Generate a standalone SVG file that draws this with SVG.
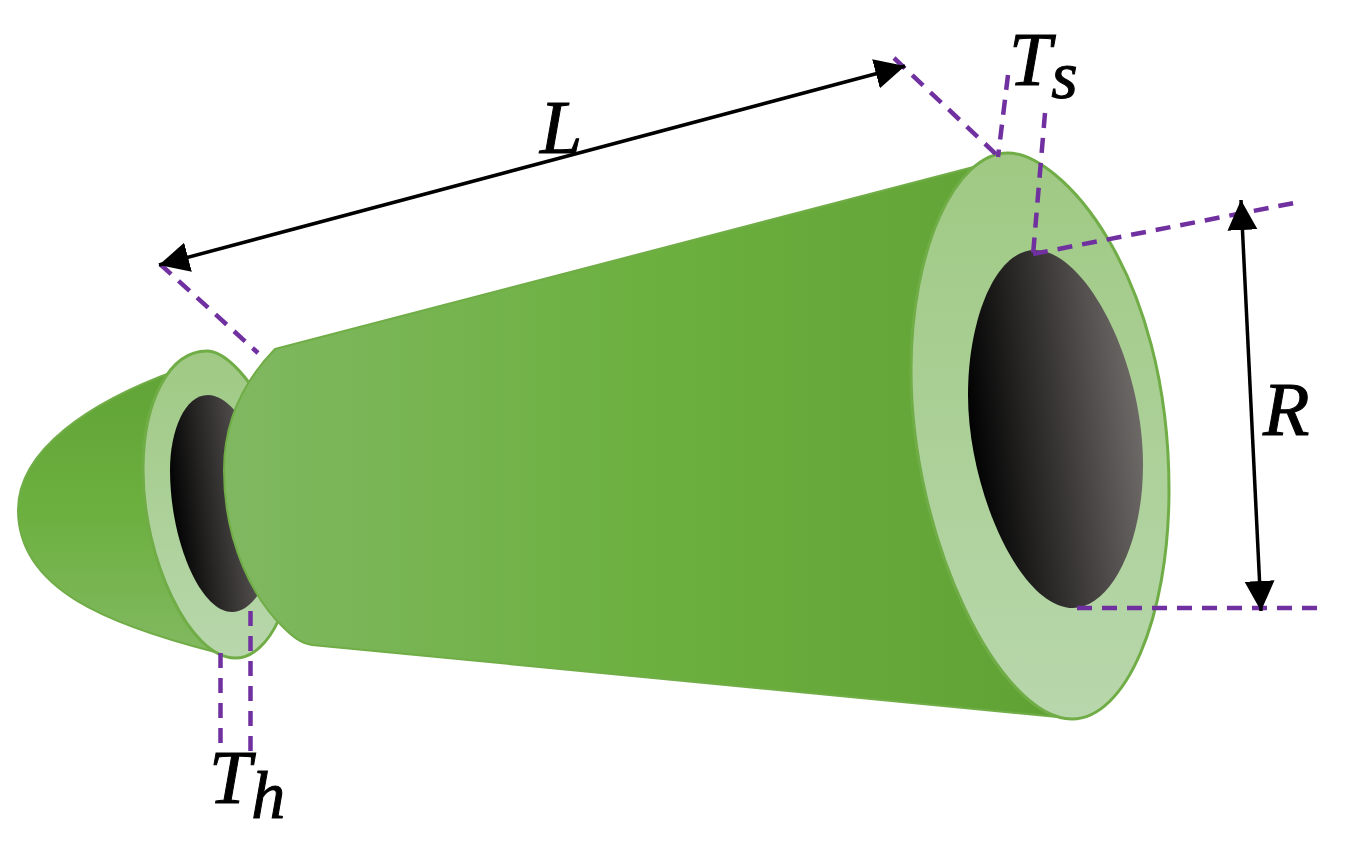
<svg xmlns="http://www.w3.org/2000/svg" width="1359" height="849" viewBox="0 0 1359 849">
  <defs>
    <linearGradient id="bodyV" x1="0" y1="0" x2="0" y2="1">
      <stop offset="0" stop-color="#61a336"/><stop offset="0.5" stop-color="#6cb03f"/><stop offset="1" stop-color="#82b961"/>
    </linearGradient>
    <linearGradient id="bodyH" gradientUnits="userSpaceOnUse" x1="224" y1="440" x2="1070" y2="440">
      <stop offset="0" stop-color="#80b861"/><stop offset="0.5" stop-color="#6cb03f"/><stop offset="1" stop-color="#60a134"/>
    </linearGradient>
    <linearGradient id="ring" x1="0" y1="0" x2="0" y2="1">
      <stop offset="0" stop-color="#9fc983"/><stop offset="1" stop-color="#b8d7ac"/>
    </linearGradient>
    <linearGradient id="holeBig" gradientUnits="userSpaceOnUse" x1="968" y1="440" x2="1143" y2="420">
      <stop offset="0" stop-color="#000"/><stop offset="1" stop-color="#6f6b69"/>
    </linearGradient>
    <linearGradient id="holeSmall" gradientUnits="userSpaceOnUse" x1="170" y1="510" x2="275" y2="498">
      <stop offset="0" stop-color="#000"/><stop offset="1" stop-color="#6f6b69"/>
    </linearGradient>
    <marker id="head" markerUnits="userSpaceOnUse" markerWidth="32" markerHeight="32" refX="30" refY="15" orient="auto-start-reverse" viewBox="0 0 32 32">
      <path d="M0 0L30 15L0 30Z" fill="#000"/>
    </marker>
    <style>
      .edge{stroke:#70ad47;stroke-width:3;stroke-linejoin:round}
      .soft{stroke:#70ad47;stroke-width:2;stroke-linejoin:round}
      .dim{fill:none;stroke:#000;stroke-width:3.500;marker-start:url(#head);marker-end:url(#head)}
      .dash{fill:none;stroke:#7030a0;stroke-width:4.500;stroke-dasharray:15 10}
      .lab{font-family:"Liberation Serif","DejaVu Serif",serif;font-style:italic;fill:#000;stroke:#000;stroke-width:1;font-size:76px}
      .sub{font-size:68px}
    </style>
  </defs>

  <g id="small-end">
    <path class="soft" fill="url(#bodyV)" d="M175 371C90 402 18 450 18 510C18 590 110 625 215 652L240 500Z"/>
    <path class="edge" fill="url(#ring)" d="M207 351C240 351 295 440 297 520C297 600 270 658 235 658C190 658 143 560 143 470C143 400 170 351 207 351Z"/>
    <path fill="url(#holeSmall)" d="M208 395C240 395 275 470 275 530C275 575 255 612 232 612C200 612 170 540 170 470C170 430 185 395 208 395Z"/>
  </g>

  <g id="cone-body">
    <path class="soft" fill="url(#bodyH)" d="M275 349L985 164L1068 718L312 645C300 643 292 636 283 627C255 600 224 545 224 470C224 425 240 385 275 349Z"/>
  </g>

  <g id="large-end">
    <path class="edge" fill="url(#ring)" d="M1008 153C1060 153 1169 270 1169 490C1169 620 1125 719 1072 719C1000 719 911 540 911 370C911 250 955 153 1008 153Z"/>
    <path fill="url(#holeBig)" d="M1035 250C1085 250 1143 360 1143 465C1143 545 1110 608 1073 608C1020 608 968 490 968 395C968 320 995 250 1035 250Z"/>
  </g>

  <g id="connectors">
    <path class="dash" d="M160 264L258 353"/>
    <path class="dash" d="M894 58L999 157"/>
    <path class="dash" d="M1008 75L998 157"/>
    <path class="dash" d="M1045 113L1033 255"/>
    <path class="dash" d="M1033 254L1294 203"/>
    <path class="dash" d="M1077 608L1318 608"/>
    <path class="dash" d="M220.500 653L220.500 752"/>
    <path class="dash" d="M250.500 611L250.500 752"/>
    <path class="dim" d="M159 265L905 66"/>
    <path class="dim" d="M1241 200L1261 611"/>
  </g>

  <g id="labels">
    <text class="lab" x="540" y="153">L</text>
    <text class="lab" x="1263" y="435">R</text>
    <text class="lab" x="1009" y="85">T<tspan class="sub" dy="13">s</tspan></text>
    <text class="lab" x="209" y="803">T<tspan class="sub" dy="15">h</tspan></text>
  </g>
</svg>
